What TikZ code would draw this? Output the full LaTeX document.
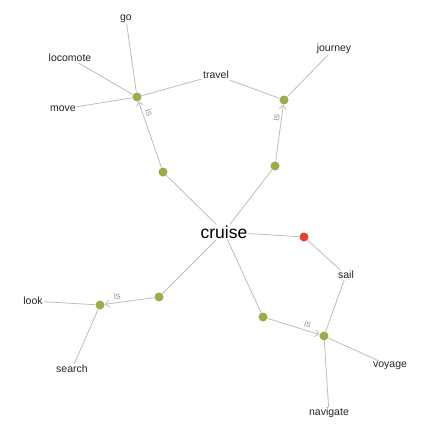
\documentclass[tikz,border=0pt]{standalone}
\usepackage{fontspec}
\setmainfont{Liberation Sans}
\usetikzlibrary{arrows.meta}
\definecolor{dotgreen}{HTML}{9AAD4C}
\definecolor{dotred}{HTML}{DD4433}
\definecolor{edgegray}{HTML}{BDBDBD}
\definecolor{isgray}{HTML}{9A9A9A}
\begin{document}
\begin{tikzpicture}[x=1pt,y=-1pt,
  gdot/.style={circle,fill=dotgreen,minimum size=9pt,inner sep=0pt},
  rdot/.style={circle,fill=dotred,minimum size=9pt,inner sep=0pt},
  word/.style={inner sep=1pt,font=\fontsize{10.5}{12}\selectfont,text=black!85},
  edge/.style={draw=edgegray,line width=0.8pt},
  isedge/.style={edge,-{Straight Barb[length=4pt,width=7pt,line width=0.8pt]}},
  islab/.style={font=\fontsize{9.5}{11}\selectfont,text=isgray,inner sep=0pt}]
\useasboundingbox (0,0) rectangle (431,439);
\fill[white] (0,0) rectangle (431,439);
% centre
\node[inner sep=1pt,font=\fontsize{17.5}{20}\selectfont,text=black] (cruise) at (224,232) {cruise};
% dots
\node[gdot] (tli) at (163,172) {};
\node[gdot] (tlh) at (137,97) {};
\node[gdot] (tri) at (275,166) {};
\node[gdot] (trh) at (284,100) {};
\node[rdot] (red) at (304,237) {};
\node[gdot] (bri) at (263,317) {};
\node[gdot] (brh) at (324,336) {};
\node[gdot] (bli) at (159,297) {};
\node[gdot] (blh) at (100,305) {};
% words
\node[word] (go) at (126,19) {go};
\node[word] (locomote) at (70,58) {locomote};
\node[word] (move) at (63,109) {move};
\node[word] (travel) at (216,75) {travel};
\node[word] (journey) at (334,49) {journey};
\node[word] (look) at (33,301) {look};
\node[word] (search) at (72,369) {search};
\node[word] (sail) at (346,275) {sail};
\node[word] (voyage) at (390,366) {voyage};
\node[word] (navigate) at (329,413) {navigate};
% edges
\draw[edge] (cruise) -- (tli);
\draw[edge] (cruise) -- (tri);
\draw[edge] (cruise) -- (red);
\draw[edge] (cruise) -- (bri);
\draw[edge] (cruise) -- (bli);
\draw[isedge] (tli) -- (tlh);
\draw[isedge] (tri) -- (trh);
\draw[isedge] (bri) -- (brh);
\draw[isedge] (bli) -- (blh);
\draw[edge] (tlh) -- (go);
\draw[edge] (tlh) -- (locomote);
\draw[edge] (tlh) -- (move);
\draw[edge] (tlh) -- (travel);
\draw[edge] (travel) -- (trh);
\draw[edge] (trh) -- (journey);
\draw[edge] (red) -- (sail);
\draw[edge] (sail) -- (brh);
\draw[edge] (brh) -- (voyage);
\draw[edge] (brh) -- (navigate);
\draw[edge] (blh) -- (look);
\draw[edge] (blh) -- (search);
% is labels
\node[islab,rotate=-71] (is1) at (149.5,113) {is};
\node[islab,rotate=82] (is2) at (276,118) {is};
\node[islab,rotate=8] (is3) at (117,296) {is};
\node[islab,rotate=-17] (is4) at (308,324) {is};
\end{tikzpicture}
\end{document}
